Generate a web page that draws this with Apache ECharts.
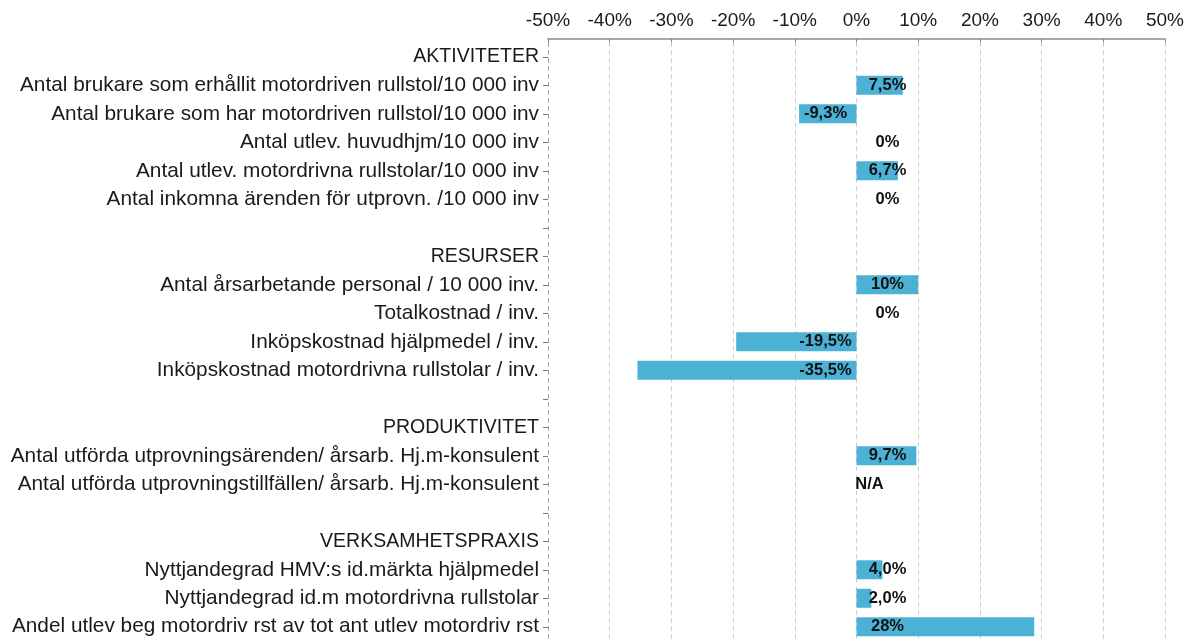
<!DOCTYPE html>
<html>
<head>
<meta charset="utf-8">
<script src="https://cdn.jsdelivr.net/npm/echarts@6/dist/echarts.min.js"></script>
<style>
  html, body { margin: 0; padding: 0; background: #fff; }
  #chart { width: 1191px; height: 641px; }
</style>
</head>
<body>
<div id="chart"></div>
<script>
// rader (tomma rader = mellanrum mellan grupperna)
var categories = [
  'AKTIVITETER',
  'Antal brukare som erhållit motordriven rullstol/10 000 inv',
  'Antal brukare som har motordriven rullstol/10 000 inv',
  'Antal utlev. huvudhjm/10 000 inv',
  'Antal utlev. motordrivna rullstolar/10 000 inv',
  'Antal inkomna ärenden för utprovn. /10 000 inv',
  ' ',
  'RESURSER',
  'Antal årsarbetande personal / 10 000 inv.',
  'Totalkostnad / inv.',
  'Inköpskostnad hjälpmedel / inv.',
  'Inköpskostnad motordrivna rullstolar / inv.',
  '  ',
  'PRODUKTIVITET',
  'Antal utförda utprovningsärenden/ årsarb. Hj.m-konsulent',
  'Antal utförda utprovningstillfällen/ årsarb. Hj.m-konsulent',
  '   ',
  'VERKSAMHETSPRAXIS',
  'Nyttjandegrad HMV:s id.märkta hjälpmedel',
  'Nyttjandegrad id.m motordrivna rullstolar',
  'Andel utlev beg motordriv rst av tot ant utlev motordriv rst'
];
var headers = ['AKTIVITETER', 'RESURSER', 'PRODUKTIVITET', 'VERKSAMHETSPRAXIS'];
var values = [null, 7.5, -9.3, 0, 6.7, 0, null, null, 10, 0, -19.5, -35.5, null, null, 9.7, 0, null, null, 4.2, 2.4, 28.8];
var labels = ['', '7,5%', '-9,3%', '0%', '6,7%', '0%', '', '', '10%', '0%', '-19,5%', '-35,5%', '', '', '9,7%', 'N/A', '', '', '4,0%', '2,0%', '28%'];
var xTicks = { min: -50, max: 50, interval: 10 };

var chart = echarts.init(document.getElementById('chart'));

var barData = values.map(function (v, i) {
  if (v === null) return { value: null };
  var item = { value: v, label: {} };
  if (v < 0) {
    item.label.position = ['100%', '50%'];
    item.label.offset = [-31, 0];
  } else {
    item.label.position = [0, '50%'];
    item.label.offset = [labels[i] === 'N/A' ? 13 : 31, 0];
  }
  return item;
});

chart.setOption({
  animation: false,
  textStyle: { fontFamily: 'Liberation Sans, Arial, sans-serif' },
  grid: { left: 548, right: 26, top: 42.6, height: 602.7 },
  xAxis: {
    type: 'value',
    position: 'top',
    offset: 4,
    min: xTicks.min,
    max: xTicks.max,
    interval: xTicks.interval,
    axisLine: { show: true, lineStyle: { color: '#8c8c8c', width: 1.5 } },
    axisTick: { show: true, inside: true, length: 4, lineStyle: { color: '#8c8c8c' } },
    axisLabel: { formatter: '{value}%', color: '#1a1a1a', fontSize: 19, margin: 8 },
    splitLine: { show: true, lineStyle: { color: '#c8c8c8', type: [4, 4] } }
  },
  yAxis: {
    type: 'category',
    inverse: true,
    data: categories,
    axisLine: { show: true, onZero: false, lineStyle: { color: '#a0a0a0', type: [4, 4] } },
    axisTick: { show: true, alignWithLabel: true, length: 5, lineStyle: { color: '#7a7a7a' } },
    axisLabel: {
      color: '#1a1a1a',
      fontSize: 20.8,
      margin: 9,
      formatter: function (v) {
        return headers.indexOf(v) >= 0 ? '{h|' + v + '}' : v;
      },
      rich: { h: { fontSize: 19.5, color: '#1a1a1a' } }
    }
  },
  series: [{
    type: 'bar',
    data: barData,
    barWidth: 19,
    itemStyle: { color: '#4bb2d5' },
    label: {
      show: true,
      align: 'center',
      verticalAlign: 'middle',
      color: '#111',
      fontWeight: 'bold',
      fontSize: 16.5,
      formatter: function (p) { return labels[p.dataIndex]; }
    }
  }]
});
</script>
</body>
</html>
